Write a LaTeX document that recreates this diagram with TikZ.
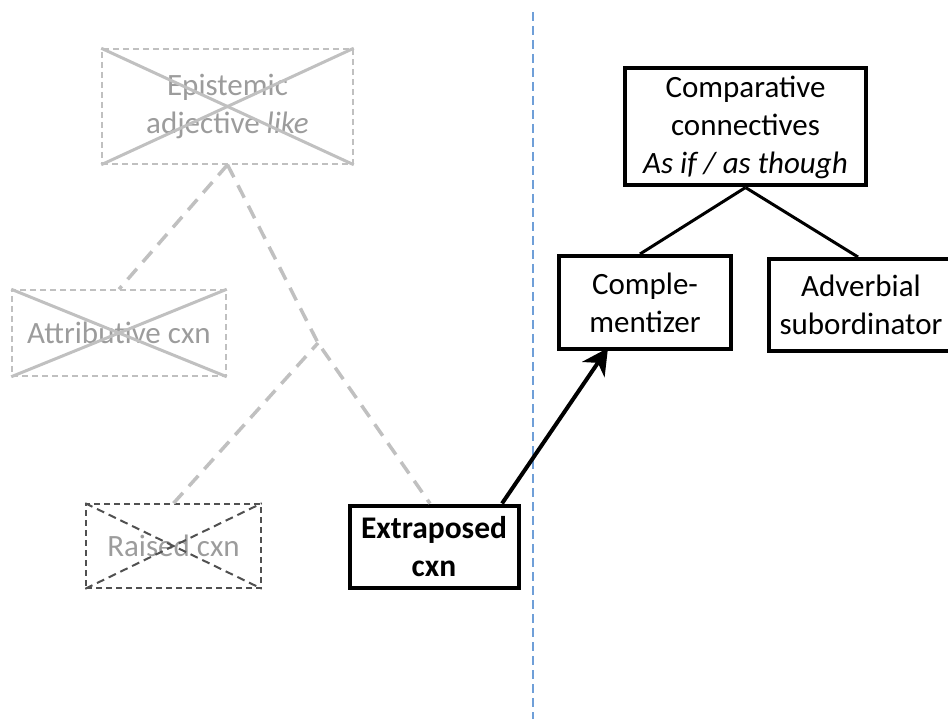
\documentclass[tikz,border=0pt]{standalone}
\usepackage{fontspec}
\setmainfont{Carlito}
\usetikzlibrary{arrows.meta}
\definecolor{ltgray}{HTML}{C0C0C0}
\definecolor{txtgray}{HTML}{9C9C9C}
\definecolor{dkgray}{HTML}{505050}
\definecolor{sepblue}{HTML}{6F9FD8}
\tikzset{
  txt/.style={font=\fontsize{31}{38}\selectfont, align=center},
  goodbox/.style={txt, draw=black, line width=4pt, rectangle, inner sep=0pt},
  crossbox/.style={txt, text=txtgray, draw=ltgray, line width=1.5pt, dash pattern=on 6pt off 4pt, rectangle, inner sep=0pt},
  raisedbox/.style={txt, text=txtgray, draw=dkgray, line width=1.5pt, dash pattern=on 6pt off 4pt, rectangle, inner sep=0pt},
  crossline/.style={ltgray, line width=3pt},
  raisedcross/.style={dkgray, line width=2pt, dash pattern=on 8pt off 5pt},
  oldlink/.style={ltgray, line width=3.5pt, dash pattern=on 14pt off 9pt},
  newlink/.style={black, line width=3pt},
}
\begin{document}
\begin{tikzpicture}[x=1pt,y=-1pt]
\useasboundingbox (0,0) rectangle (948,719);
% separator
\coordinate (septop) at (532.5,12);
\coordinate (sepbot) at (532.5,719);
\draw[sepblue, line width=2pt, dash pattern=on 9pt off 5pt] (septop) -- (sepbot);

% left side nodes
\node[crossbox, minimum width=251pt, minimum height=115pt] (epi) at (227.5,106.5) {Epistemic\\adjective \textit{like}};
\draw[crossline] (epi.north west) -- (epi.south east);
\draw[crossline] (epi.south west) -- (epi.north east);

\node[crossbox, minimum width=214pt, minimum height=86pt] (attr) at (119,333) {Attributive cxn};
\draw[crossline] (attr.north west) -- (attr.south east);
\draw[crossline] (attr.south west) -- (attr.north east);

\node[raisedbox, minimum width=175pt, minimum height=84pt] (rais) at (173.5,546) {Raised cxn};
\draw[raisedcross] (rais.north west) -- (rais.south east);
\draw[raisedcross] (rais.south west) -- (rais.north east);

\node[goodbox, font=\fontsize{31.5}{38}\selectfont\bfseries, minimum width=169pt, minimum height=82pt] (extr) at (434,546.5) {Extraposed\\cxn};

% gray dashed links
\coordinate (junc) at (318,343);
\draw[oldlink] (epi.south) -- (attr.north);
\draw[oldlink] (epi.south) -- (junc) -- ([xshift=-4pt]extr.north);
\draw[oldlink] (rais.north) -- (junc);

% right side nodes
\node[goodbox, minimum width=241pt, minimum height=117pt] (comp) at (745.5,127) {Comparative\\connectives\\\textit{As if / as though}};
\node[goodbox, minimum width=172pt, minimum height=93pt] (cmpl) at (645,302.5) {Comple-\\mentizer};
\node[goodbox, minimum width=184pt, minimum height=92pt] (advb) at (861,305) {Adverbial\\subordinator};

\draw[newlink] (comp.south) -- ([xshift=-5pt]cmpl.north);
\draw[newlink] (comp.south) -- ([xshift=-3pt]advb.north);

% arrow
\draw[black, line width=4pt, -{Stealth[length=26pt, width=27pt, inset=8pt]}] ([xshift=68pt]extr.north) -- ([xshift=-37pt, yshift=3pt]cmpl.south);
\end{tikzpicture}
\end{document}
